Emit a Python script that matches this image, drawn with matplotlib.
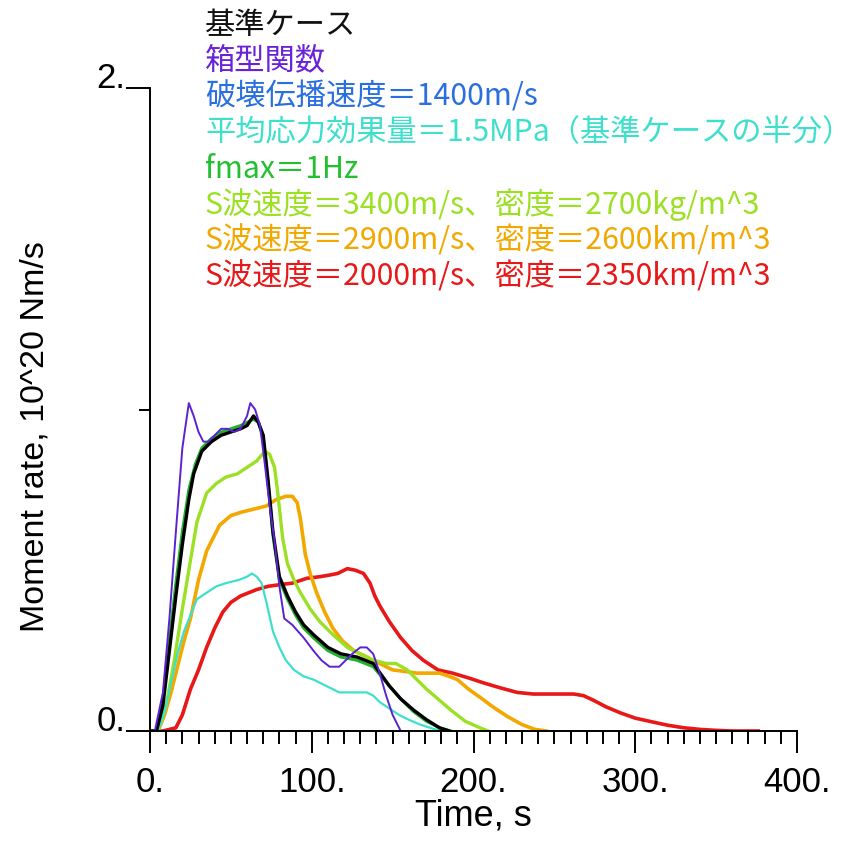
import matplotlib
matplotlib.use("Agg")
import matplotlib.pyplot as plt
from matplotlib.ticker import MultipleLocator

# =========================
# data
# =========================
labels_jp = [
    "基準ケース",
    "箱型関数",
    "破壊伝播速度＝1400m/s",
    "平均応力効果量＝1.5MPa（基準ケースの半分）",
    "fmax＝1Hz",
    "S波速度＝3400m/s、密度＝2700kg/m^3",
    "S波速度＝2900m/s、密度＝2600km/m^3",
    "S波速度＝2000m/s、密度＝2350km/m^3",
]
label_colors = ["#111111", "#6a22d8", "#2a6fe0", "#3ee0cc",
                "#22c030", "#9be022", "#f2a800", "#e81818"]

# base case (black)
t_base = [0, 4, 8, 12, 16, 20, 24, 27, 32, 38, 44, 50, 56, 60, 64, 67, 70, 73, 76, 80,
          85, 90, 95, 101, 110, 118, 128, 138, 148, 155, 163, 171, 179, 185]
y_base = [0, 0, 0.08, 0.25, 0.42, 0.58, 0.72, 0.80, 0.87, 0.90, 0.92, 0.93, 0.94, 0.95, 0.98, 0.96,
          0.92, 0.78, 0.62, 0.48, 0.42, 0.37, 0.33, 0.30, 0.26, 0.24, 0.23, 0.21, 0.14, 0.10,
          0.065, 0.035, 0.01, 0]

# box function (purple)
t_box = [0, 3, 8, 12, 16, 20, 24, 27, 30, 33, 36, 40, 44, 48, 52, 56, 60, 62, 65, 68, 71, 74,
         77, 80, 83, 88, 95, 101, 106, 111, 117, 121, 125, 130, 134, 138, 142, 146, 150, 155]
y_box = [0, 0, 0.12, 0.35, 0.62, 0.88, 1.02, 0.98, 0.93, 0.90, 0.90, 0.92, 0.94, 0.94, 0.93,
         0.94, 0.98, 1.02, 1.00, 0.95, 0.83, 0.70, 0.59, 0.45, 0.35, 0.33, 0.29, 0.25, 0.22,
         0.20, 0.20, 0.22, 0.24, 0.26, 0.26, 0.24, 0.18, 0.11, 0.05, 0]

# fmax = 1 Hz (green)
t_fmax = [0, 4, 8, 12, 16, 20, 24, 28, 32, 38, 44, 50, 56, 60, 64, 67, 70, 73, 76, 80, 85,
          90, 95, 101, 110, 118, 128, 138, 148, 155, 163, 171, 179, 186]
y_fmax = [0, 0, 0.10, 0.28, 0.46, 0.62, 0.75, 0.83, 0.88, 0.91, 0.93, 0.94, 0.95, 0.96, 0.97,
          0.96, 0.91, 0.77, 0.61, 0.47, 0.41, 0.36, 0.32, 0.29, 0.25, 0.23, 0.22, 0.20, 0.14,
          0.10, 0.06, 0.03, 0.01, 0]

# 1.5 MPa (cyan)
t_stress = [0, 5, 9, 13, 17, 21, 25, 29, 35, 41, 47, 55, 60, 63, 66, 69, 72, 76, 80, 84, 89,
            95, 101, 109, 117, 125, 134, 138, 142, 148, 154, 160, 167, 175, 181]
y_stress = [0, 0, 0.06, 0.15, 0.24, 0.31, 0.36, 0.41, 0.43, 0.45, 0.46, 0.47, 0.48, 0.49, 0.48,
            0.46, 0.40, 0.31, 0.26, 0.22, 0.19, 0.17, 0.16, 0.14, 0.12, 0.12, 0.12, 0.11, 0.09,
            0.07, 0.05, 0.035, 0.02, 0.007, 0]

# Vs 3400 (yellow-green)
t_vs3400 = [0, 5, 10, 15, 20, 24, 29, 35, 41, 47, 54, 60, 66, 71, 74, 77, 79, 82, 85, 89, 93,
            99, 105, 113, 122, 130, 138, 146, 152, 159, 165, 171, 178, 186, 195, 204, 209]
y_vs3400 = [0, 0, 0.08, 0.22, 0.38, 0.50, 0.65, 0.74, 0.77, 0.79, 0.80, 0.82, 0.84, 0.87, 0.86,
            0.82, 0.74, 0.60, 0.52, 0.47, 0.43, 0.38, 0.34, 0.30, 0.26, 0.24, 0.22, 0.21, 0.21,
            0.19, 0.16, 0.13, 0.10, 0.065, 0.03, 0.01, 0]

# Vs 2900 (orange)
t_vs2900 = [0, 5, 9, 13, 17, 21, 25, 30, 35, 43, 50, 56, 64, 72, 78, 84, 88, 91, 93, 96, 99,
            103, 108, 113, 119, 126, 134, 142, 150, 158, 165, 172, 179, 185, 190, 197, 204,
            212, 221, 230, 238, 245]
y_vs2900 = [0, 0, 0.05, 0.12, 0.20, 0.28, 0.35, 0.47, 0.56, 0.64, 0.67, 0.68, 0.69, 0.70, 0.72,
            0.73, 0.73, 0.71, 0.66, 0.55, 0.49, 0.43, 0.37, 0.32, 0.28, 0.25, 0.23, 0.21, 0.19,
            0.185, 0.18, 0.18, 0.18, 0.17, 0.16, 0.13, 0.105, 0.075, 0.045, 0.02, 0.005, 0]

# Vs 2000 (red)
t_vs2000 = [0, 8, 12, 16, 20, 25, 30, 35, 40, 45, 50, 56, 61, 66, 73, 80, 88, 97, 105, 111,
            116, 122, 127, 132, 136, 139, 142, 148, 155, 162, 169, 178, 187, 197, 206, 216,
            227, 237, 247, 256, 262, 268, 274, 282, 291, 300, 309, 320, 330, 340, 350, 360,
            370, 376]
y_vs2000 = [0, 0, 0.005, 0.01, 0.05, 0.13, 0.19, 0.26, 0.32, 0.37, 0.40, 0.42, 0.43, 0.44,
            0.45, 0.455, 0.46, 0.475, 0.48, 0.485, 0.49, 0.505, 0.50, 0.49, 0.46, 0.42, 0.39,
            0.34, 0.29, 0.25, 0.22, 0.19, 0.18, 0.165, 0.15, 0.135, 0.12, 0.115, 0.115, 0.115,
            0.115, 0.11, 0.096, 0.075, 0.056, 0.04, 0.03, 0.018, 0.01, 0.005, 0.002, 0, 0, 0]

x_ticks = [0, 100, 200, 300, 400]
x_ticklabels = ["0.", "100.", "200.", "300.", "400."]

# =========================
# plotting
# =========================
plt.rcParams["font.family"] = ["Liberation Sans", "DejaVu Sans"]

fig = plt.figure(figsize=(8.6, 8.42), dpi=100)
ax = fig.add_axes([150 / 860, 1 - 731 / 842, 647 / 860, 643 / 842])

ax.plot(t_vs2000, y_vs2000, color="#e81818", lw=2.6)
ax.plot(t_vs2900, y_vs2900, color="#f2a800", lw=2.6)
ax.plot(t_vs3400, y_vs3400, color="#9be022", lw=2.4)
ax.plot(t_stress, y_stress, color="#3ee0cc", lw=1.6)
ax.plot(t_fmax, y_fmax, color="#22b030", lw=2.2)
ax.plot(t_base, y_base, color="#000000", lw=2.4)
ax.plot(t_box, y_box, color="#5a22d0", lw=1.4)

ax.set_xlim(0, 400)
ax.set_ylim(0, 2)
for s in ["top", "right"]:
    ax.spines[s].set_visible(False)
for s in ["left", "bottom"]:
    ax.spines[s].set_linewidth(1.4)

ax.set_xticks(x_ticks, x_ticklabels)
ax.xaxis.set_minor_locator(MultipleLocator(10))
ax.tick_params(axis="x", which="major", direction="out", length=16, width=1.4,
               labelsize=25, pad=9)
ax.tick_params(axis="x", which="minor", direction="out", length=9, width=1.4)

ax.set_yticks([0, 2], ["0.", "2."])
ax.set_yticks([1], minor=True)
ax.tick_params(axis="y", which="major", direction="out", length=17, width=1.4,
               labelsize=25, pad=1)
ax.tick_params(axis="y", which="minor", direction="out", length=8, width=1.4)
for lab in ax.get_yticklabels():
    lab.set_verticalalignment("baseline")

ax.set_xlabel("Time, s", fontsize=26, labelpad=0)
fig.text(35 / 860, 1 - 437 / 842, "Moment rate, 10^20 Nm/s", rotation=90,
         fontsize=24.5, ha="center", va="center")

# legend-like text block
for i, (txt, col) in enumerate(zip(labels_jp, label_colors)):
    fig.text(205 / 860, 1 - (25 + 36 * i) / 842, txt, color=col, fontsize=21.8,
             ha="left", va="center", family=["Noto Sans CJK JP", "DejaVu Sans"])

fig.savefig("out.png", dpi=100)
